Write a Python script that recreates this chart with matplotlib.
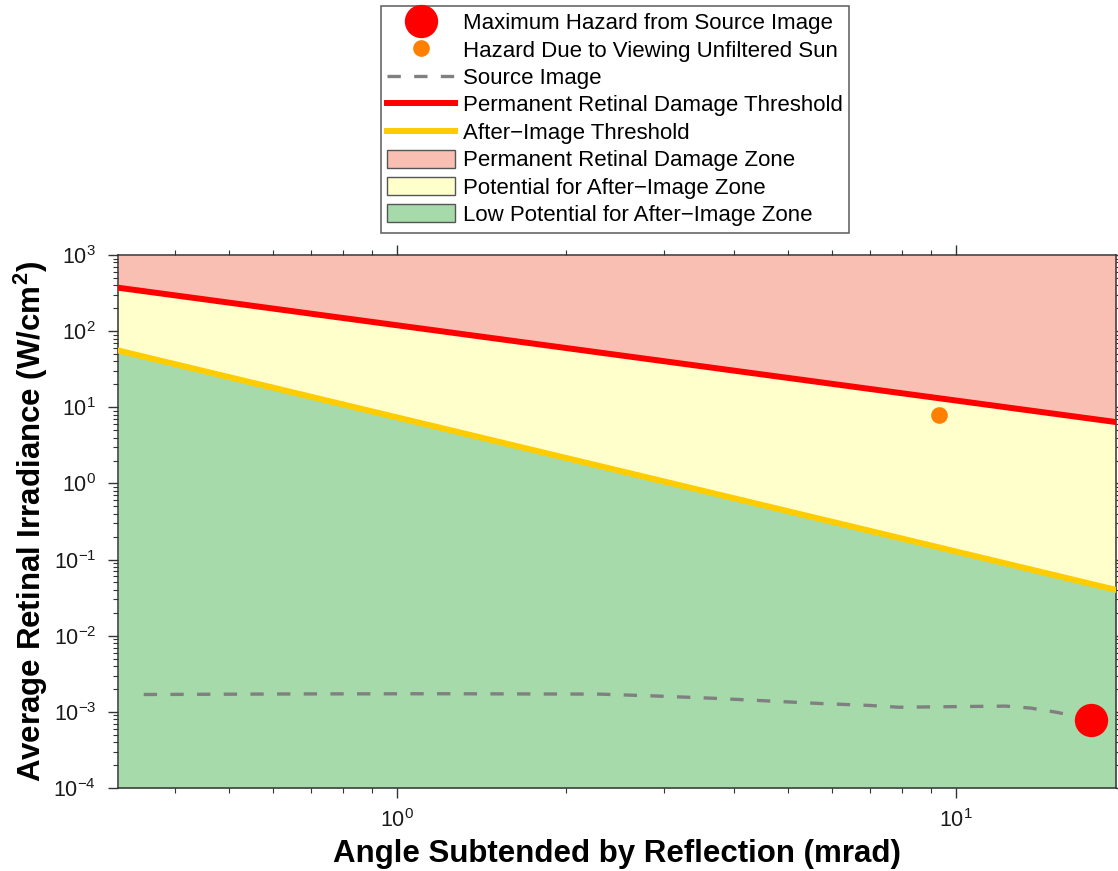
import matplotlib
matplotlib.use("Agg")
import matplotlib.pyplot as plt
from matplotlib.lines import Line2D
from matplotlib.patches import Patch
from matplotlib.ticker import NullFormatter

plt.rcParams['font.family'] = ['Liberation Sans', 'DejaVu Sans']
plt.rcParams['mathtext.fontset'] = 'custom'
plt.rcParams['mathtext.rm'] = 'Liberation Sans'
plt.rcParams['mathtext.bf'] = 'Liberation Sans:bold'

# Data (angle in mrad, irradiance in W/cm^2)
angle_edges = [0.317, 19.3]
burn_threshold = [372, 6.4]
afterimage_threshold = [55.7, 0.040]

source_angle = [0.352, 0.67, 1.19, 2.30, 2.94, 3.66, 4.53, 5.68, 7.06, 7.89,
                9.81, 12.25, 13.6, 15.2, 17.4]
source_irr = [1.69e-3, 1.72e-3, 1.73e-3, 1.71e-3, 1.61e-3, 1.51e-3, 1.40e-3,
              1.29e-3, 1.21e-3, 1.15e-3, 1.17e-3, 1.19e-3, 1.12e-3, 9.8e-4, 7.85e-4]

max_hazard = (17.4, 7.85e-4)
sun_hazard = (9.3, 8.0)

y_min, y_max = 1e-4, 1e3

pink = '#f9bfb2'
light_yellow = '#ffffcc'
green = '#a6daaa'
red = '#ff0000'
gold = '#ffcc00'
orange = '#ff7f00'
gray = '#808080'

fig = plt.figure(figsize=(11.18, 8.71), dpi=100)
ax = fig.add_axes([0.1058, 0.0953, 0.8924, 0.6119])

ax.fill_between(angle_edges, burn_threshold, y_max, color=pink, lw=0, zorder=1)
ax.fill_between(angle_edges, afterimage_threshold, burn_threshold, color=light_yellow, lw=0, zorder=1)
ax.fill_between(angle_edges, y_min, afterimage_threshold, color=green, lw=0, zorder=1)

ax.plot(angle_edges, burn_threshold, color=red, lw=4.3, zorder=3)
ax.plot(angle_edges, afterimage_threshold, color=gold, lw=4.3, zorder=3)
ax.plot(source_angle, source_irr, color=gray, lw=2.4, dashes=(4, 4), zorder=4)
ax.plot(*max_hazard, 'o', color=red, ms=24, mew=0, zorder=5)
ax.plot(*sun_hazard, 'o', color=orange, ms=12, mew=0, zorder=5)

ax.set_xscale('log')
ax.set_yscale('log')
ax.set_xlim(angle_edges)
ax.set_ylim(y_min, y_max)
ax.xaxis.set_minor_formatter(NullFormatter())
ax.yaxis.set_minor_formatter(NullFormatter())

ax.tick_params(which='both', direction='out', top=True, right=True,
               colors='#333333', labelcolor='#1a1a1a', labelsize=15.5)
ax.tick_params(which='major', length=7, width=1)
ax.tick_params(which='minor', length=3.5, width=0.8)
ax.tick_params(axis='x', which='major', pad=8)
ax.tick_params(axis='y', which='major', pad=9)
for s in ax.spines.values():
    s.set_color('#333333')
    s.set_linewidth(1.1)

ax.set_xlabel('Angle Subtended by Reflection (mrad)', fontsize=22.5, fontweight='bold')
ax.set_ylabel(r'Average Retinal Irradiance (W/cm$^{\mathbf{2}}$)', fontsize=22.5, fontweight='bold')
ax.xaxis.set_label_coords(0.5, -0.095)
ax.yaxis.set_label_coords(-0.0685, 0.5)

handles = [
    Line2D([], [], marker='o', color=red, ms=24, mew=0, ls='none'),
    Line2D([], [], marker='o', color=orange, ms=12, mew=0, ls='none'),
    Line2D([], [], color=gray, lw=2.4, dashes=(4, 4)),
    Line2D([], [], color=red, lw=4.3),
    Line2D([], [], color=gold, lw=4.3),
    Patch(facecolor=pink, edgecolor='#555555'),
    Patch(facecolor=light_yellow, edgecolor='#555555'),
    Patch(facecolor=green, edgecolor='#555555'),
]
labels = [
    'Maximum Hazard from Source Image',
    'Hazard Due to Viewing Unfiltered Sun',
    'Source Image',
    'Permanent Retinal Damage Threshold',
    'After\u2212Image Threshold',
    'Permanent Retinal Damage Zone',
    'Potential for After\u2212Image Zone',
    'Low Potential for After\u2212Image Zone',
]
leg = fig.legend(handles, labels, loc='upper center', bbox_to_anchor=(0.55, 0.9931),
                 fontsize=16, frameon=True, fancybox=False, edgecolor='#333333',
                 handlelength=3.06, handleheight=0.86, handletextpad=0.32,
                 labelspacing=0.26, borderpad=0.3, borderaxespad=0)
leg.get_frame().set_linewidth(1.1)

fig.savefig('out.png', dpi=100)
